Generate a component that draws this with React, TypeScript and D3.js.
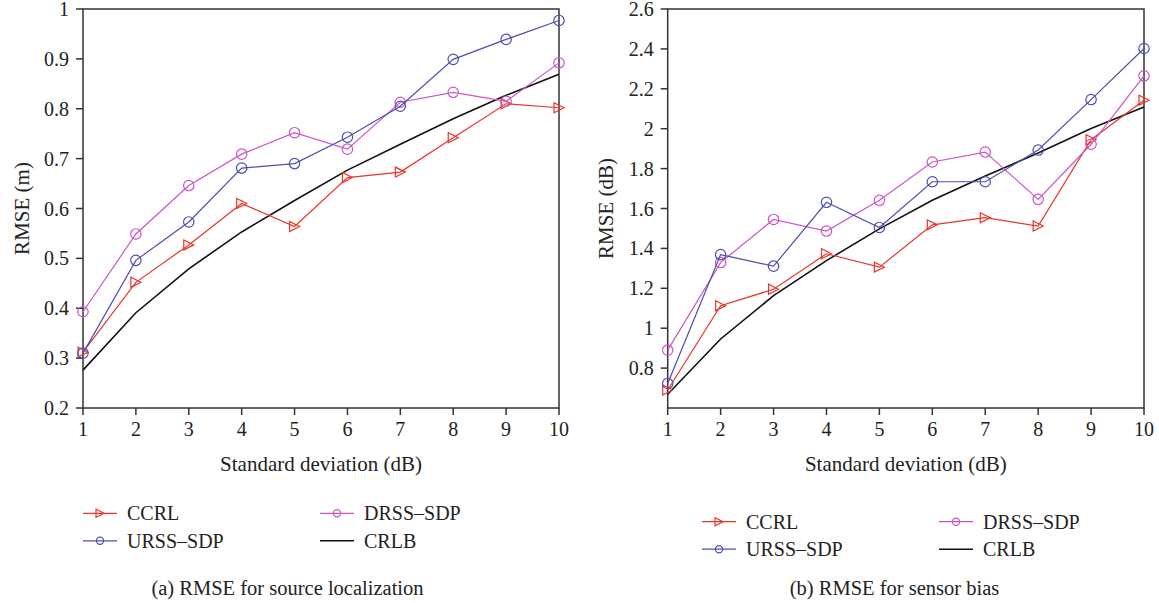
import React from "react";
import * as d3 from "d3";

const stdDev = [1, 2, 3, 4, 5, 6, 7, 8, 9, 10];

// (a) RMSE for source localization (m)
const locCCRL = [0.312, 0.452, 0.527, 0.610, 0.564, 0.662, 0.673, 0.742, 0.810, 0.802];
const locURSS = [0.310, 0.496, 0.573, 0.681, 0.690, 0.743, 0.805, 0.899, 0.939, 0.977];
const locDRSS = [0.393, 0.549, 0.646, 0.709, 0.752, 0.719, 0.813, 0.833, 0.815, 0.892];
const locCRLB = [0.276, 0.391, 0.479, 0.553, 0.616, 0.677, 0.729, 0.780, 0.827, 0.869];
const locTicks = [0.2, 0.3, 0.4, 0.5, 0.6, 0.7, 0.8, 0.9, 1];

// (b) RMSE for sensor bias (dB)
const biasCCRL = [0.690, 1.113, 1.195, 1.373, 1.306, 1.518, 1.554, 1.512, 1.945, 2.143];
const biasURSS = [0.723, 1.369, 1.311, 1.631, 1.505, 1.734, 1.734, 1.893, 2.146, 2.402];
const biasDRSS = [0.890, 1.329, 1.545, 1.487, 1.641, 1.833, 1.883, 1.646, 1.922, 2.265];
const biasCRLB = [0.669, 0.946, 1.163, 1.339, 1.498, 1.641, 1.763, 1.878, 2.001, 2.109];
const biasTicks = [0.8, 1, 1.2, 1.4, 1.6, 1.8, 2, 2.2, 2.4, 2.6];

const seriesNames = ["CCRL", "URSS\u2013SDP", "DRSS\u2013SDP", "CRLB"];
const RED = "#e8352b";
const BLUE = "#4b4fb3";
const MAGENTA = "#cc55c4";
const BLACK = "#111111";
const AXIS = "#333333";
const FONT = "'Liberation Serif', 'Times New Roman', serif";

type Series = { name: string; values: number[]; color: string; marker: "tri" | "circle" | "none" };

function Marker({ kind, x, y, color, r }: { kind: string; x: number; y: number; color: string; r: number }) {
  if (kind === "circle") {
    return <circle cx={x} cy={y} r={r} fill="none" stroke={color} strokeWidth={1.2} />;
  }
  if (kind === "tri") {
    const p = `${x - r},${y - r} ${x - r},${y + r} ${x + r},${y}`;
    return <polygon points={p} fill="none" stroke={color} strokeWidth={1.2} />;
  }
  return null;
}

function Panel(props: {
  x0: number; x1: number; y0: number; y1: number;
  domain: [number, number]; ticks: number[]; fmt: (v: number) => string;
  series: Series[]; yLabel: string; yLabelX: number;
  legendY: number; legendX1: number; legendX2: number;
  caption: string; captionX: number;
}) {
  const { x0, x1, y0, y1, domain, ticks, series } = props;
  const xs = d3.scaleLinear().domain([1, 10]).range([x0, x1]);
  const ys = d3.scaleLinear().domain(domain).range([y1, y0]);
  const line = d3.line<number>().x((_, i) => xs(stdDev[i])).y((v) => ys(v));
  const order = [series[0], series[2], series[1], series[3]];
  const legendPos = [
    [props.legendX1, props.legendY], [props.legendX2, props.legendY],
    [props.legendX1, props.legendY + 27.5], [props.legendX2, props.legendY + 27.5],
  ];
  return (
    <g fontFamily={FONT} fill="#222">
      {/* frame */}
      <rect x={x0} y={y0} width={x1 - x0} height={y1 - y0} fill="none" stroke={AXIS} strokeWidth={1.5} />
      {/* y ticks */}
      {ticks.map((t) => (
        <g key={"y" + t}>
          <line x1={x0 - 7} x2={x0} y1={ys(t)} y2={ys(t)} stroke={AXIS} strokeWidth={1.5} />
          <text x={x0 - 14} y={ys(t)} dy="0.35em" textAnchor="end" fontSize={20}>{props.fmt(t)}</text>
        </g>
      ))}
      {/* x ticks */}
      {stdDev.map((t) => (
        <g key={"x" + t}>
          <line x1={xs(t)} x2={xs(t)} y1={y1} y2={y1 + 7} stroke={AXIS} strokeWidth={1.5} />
          <text x={xs(t)} y={y1 + 28} textAnchor="middle" fontSize={20}>{t}</text>
        </g>
      ))}
      <text x={(x0 + x1) / 2} y={y1 + 63} textAnchor="middle" fontSize={21}>Standard deviation (dB)</text>
      <text transform={`translate(${props.yLabelX},${(y0 + y1) / 2}) rotate(-90)`} textAnchor="middle" dy="0.35em" fontSize={21}>{props.yLabel}</text>
      {/* series */}
      {[series[3], series[0], series[2], series[1]].map((s) => (
        <g key={s.name}>
          <path d={line(s.values) || ""} fill="none" stroke={s.color} strokeWidth={s.marker === "none" ? 1.6 : 1.2} />
          {s.values.map((v, i) => (
            <Marker key={i} kind={s.marker} x={xs(stdDev[i])} y={ys(v)} color={s.color} r={s.marker === "tri" ? 5 : 5.2} />
          ))}
        </g>
      ))}
      {/* legend */}
      {order.map((s, i) => {
        const [lx, ly] = legendPos[i];
        return (
          <g key={"lg" + s.name}>
            <line x1={lx} x2={lx + 34} y1={ly} y2={ly} stroke={s.color} strokeWidth={s.marker === "none" ? 1.6 : 1.2} />
            <Marker kind={s.marker} x={lx + 17} y={ly} color={s.color} r={s.marker === "tri" ? 4 : 3.6} />
            <text x={lx + 44} y={ly} dy="0.35em" fontSize={20}>{s.name}</text>
          </g>
        );
      })}
      <text x={props.captionX} y={588} dy="0.35em" textAnchor="middle" fontSize={20.5}>{props.caption}</text>
    </g>
  );
}

export default function App() {
  const mk = (a: number[], b: number[], c: number[], d: number[]): Series[] => [
    { name: seriesNames[0], values: a, color: RED, marker: "tri" },
    { name: seriesNames[1], values: b, color: BLUE, marker: "circle" },
    { name: seriesNames[2], values: c, color: MAGENTA, marker: "circle" },
    { name: seriesNames[3], values: d, color: BLACK, marker: "none" },
  ];
  const f1 = (v: number) => (v === 1 ? "1" : d3.format(".1f")(v));
  const f2 = (v: number) => (Math.abs(v - Math.round(v)) < 1e-9 ? String(Math.round(v)) : d3.format(".1f")(v));
  return (
    <svg width={1159} height={603} style={{ position: "absolute", left: 0, top: 0, background: "#fff" }}>
      <rect width={1159} height={603} fill="#fff" />
      <Panel x0={83} x1={559} y0={9} y1={408} domain={[0.2, 1]} ticks={locTicks} fmt={f1}
        series={mk(locCCRL, locURSS, locDRSS, locCRLB)} yLabel="RMSE (m)" yLabelX={22}
        legendY={513.3} legendX1={83} legendX2={320} caption="(a) RMSE for source localization" captionX={287.5} />
      <Panel x0={667.7} x1={1144} y0={9} y1={408} domain={[0.6, 2.6]} ticks={biasTicks} fmt={f2}
        series={mk(biasCCRL, biasURSS, biasDRSS, biasCRLB)} yLabel="RMSE (dB)" yLabelX={606}
        legendY={521.7} legendX1={702} legendX2={939} caption="(b) RMSE for sensor bias" captionX={894.5} />
    </svg>
  );
}
